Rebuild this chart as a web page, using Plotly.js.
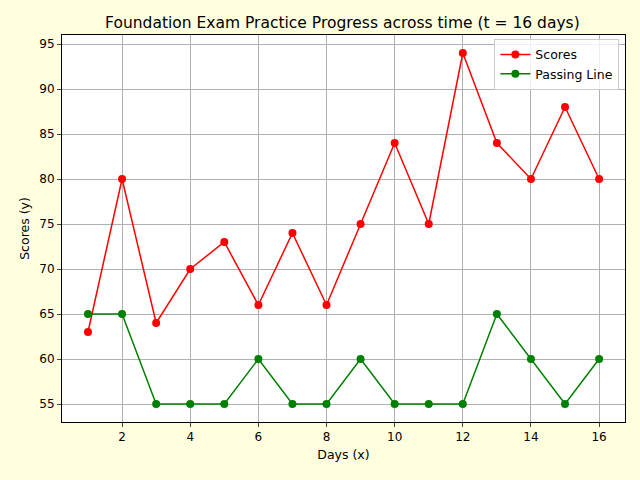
<!DOCTYPE html>
<html><head><script src="https://cdn.plot.ly/plotly-3.0.1.min.js"></script></head>
<body style="margin:0">
<div id="c" style="width:640px;height:480px"></div>
<script>
const days = [1,2,3,4,5,6,7,8,9,10,11,12,13,14,15,16];
const scores = [63,80,64,70,73,66,74,66,75,84,75,94,84,80,88,80];
const passing = [65,65,55,55,55,60,55,55,60,55,55,55,65,60,55,60];
const xTicks = [2,4,6,8,10,12,14,16];
const yTicks = [55,60,65,70,75,80,85,90,95];
Plotly.newPlot('c', [
  {x: days, y: scores, name: 'Scores', mode: 'lines+markers', line: {color: 'red', width: 1.5}, marker: {color: 'red', size: 8}},
  {x: days, y: passing, name: 'Passing Line', mode: 'lines+markers', line: {color: 'green', width: 1.5}, marker: {color: 'green', size: 8}}
], {
  width: 640, height: 480,
  paper_bgcolor: '#ffffe0', plot_bgcolor: 'white',
  font: {family: 'DejaVu Sans', size: 12, color: 'black'},
  margin: {l: 62, r: 15, t: 35, b: 58},
  title: {text: 'Foundation Exam Practice Progress across time (t = 16 days)', font: {size: 15.5}, x: 0.535, y: 0.965},
  xaxis: {title: {text: 'Days (x)', standoff: 6, font: {size: 12.5}}, range: [0.237, 16.76], tickvals: xTicks, showgrid: true, gridcolor: '#b0b0b0', showline: true, mirror: true, linecolor: 'black', ticks: 'outside', ticklen: 4, zeroline: false},
  yaxis: {title: {text: 'Scores (y)', standoff: 6, font: {size: 12.5}}, range: [53, 96], tickvals: yTicks, showgrid: true, gridcolor: '#b0b0b0', showline: true, mirror: true, linecolor: 'black', ticks: 'outside', ticklen: 4, zeroline: false},
  legend: {x: 0.99, y: 0.99, xanchor: 'right', yanchor: 'top', bgcolor: 'rgba(255,255,255,0.8)', bordercolor: '#cccccc', borderwidth: 1, font: {size: 12.5}},
  showlegend: true
}, {displayModeBar: false});
</script></body></html>
